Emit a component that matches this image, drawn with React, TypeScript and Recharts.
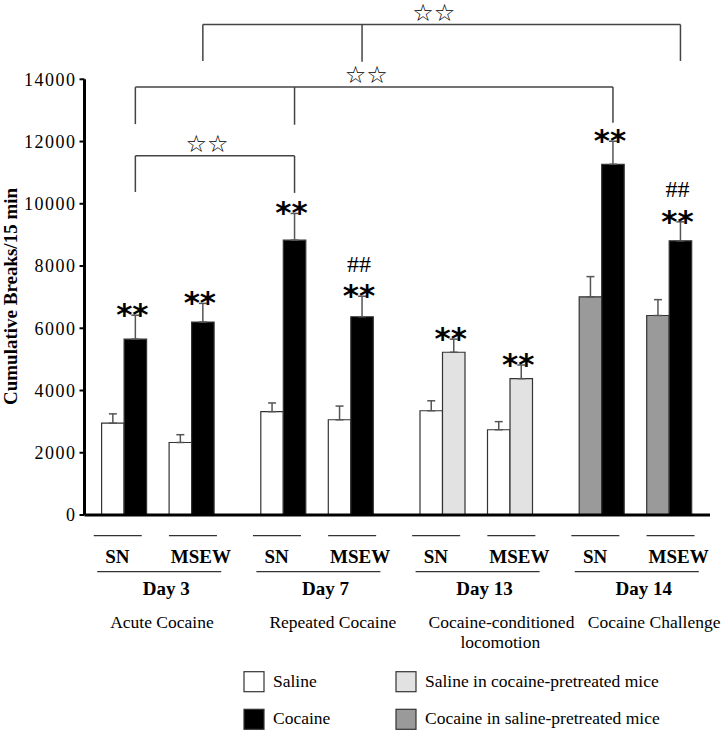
import React from 'react'
import { BarChart, Bar, XAxis, YAxis, ErrorBar, LabelList, Cell } from 'recharts'

// ---- data ----
const days = ['Day 3', 'Day 7', 'Day 13', 'Day 14']
const phases = [['Acute Cocaine'], ['Repeated Cocaine'], ['Cocaine-conditioned', 'locomotion'], ['Cocaine Challenge']]
const rearing = ['SN', 'MSEW']

// treatment of the first / second bar of every pair, per day
const firstTreatment = ['saline', 'saline', 'saline', 'cocaineSalinePre']
const secondTreatment = ['cocaine', 'cocaine', 'salineCocainePre', 'cocaine']

const snFirst = [2950, 3320, 3350, 7010]
const snFirstErr = [300, 280, 320, 650]
const snSecond = [5650, 8830, 5230, 11270]
const snSecondErr = [770, 860, 420, 740]
const msewFirst = [2330, 3060, 2740, 6410]
const msewFirstErr = [250, 440, 260, 510]
const msewSecond = [6200, 6370, 4380, 8810]
const msewSecondErr = [600, 660, 440, 610]

const snSecondMarks = ['**', '**', '**', '**']
const msewSecondMarks = ['**', '**', '**', '**']
const msewHash = ['', '##', '', '##']

const yTicks = [0, 2000, 4000, 6000, 8000, 10000, 12000, 14000]

// comparison brackets: level and leg ends in y units, legs sit on the second bar of a pair
const brackets = [
  { level: 11540, legs: [{ day: 0, group: 'SN', end: 10380 }, { day: 1, group: 'SN', end: 10350 }] },
  {
    level: 13750,
    legs: [
      { day: 0, group: 'SN', end: 12560 },
      { day: 1, group: 'SN', end: 12540 },
      { day: 3, group: 'SN', end: 12600 },
    ],
  },
  {
    level: 15760,
    legs: [
      { day: 0, group: 'MSEW', end: 14590 },
      { day: 1, group: 'MSEW', end: 14560 },
      { day: 3, group: 'MSEW', end: 14590 },
    ],
  },
]

const legendRows = [
  [['saline', 'Saline'], ['salineCocainePre', 'Saline in cocaine-pretreated mice']],
  [['cocaine', 'Cocaine'], ['cocaineSalinePre', 'Cocaine in saline-pretreated mice']],
]

// ---- styles / layout ----
const fills: Record<string, string> = {
  saline: '#ffffff',
  cocaine: '#000000',
  salineCocainePre: '#e2e2e2',
  cocaineSalinePre: '#9a9a9a',
}

const W = 728
const H = 730
const PLOT_TOP = 79.3
const PLOT_BOTTOM = 515
const PLOT_LEFT = 84.5
const PLOT_RIGHT = 710
const PAD_L = -5.9
const PAD_R = -5.4
const BAR = 22.5
const Y_MAX = 14000
const PLOT_H = PLOT_BOTTOM - PLOT_TOP
const BAND = (PLOT_RIGHT - PLOT_LEFT - PAD_L - PAD_R) / days.length
const BAR_OFFSET = Math.floor((BAND - 5 * BAR) / 2)

const SERIF = "'Liberation Serif', 'Times New Roman', serif"

const yPx = (v: number) => PLOT_TOP + (1 - v / Y_MAX) * PLOT_H
const secondBarCenter = (day: number, group: string) =>
  PLOT_LEFT + PAD_L + day * BAND + BAR_OFFSET + (group === 'SN' ? 1 : 4) * BAR + BAR / 2

const data = days.map((day, i) => ({
  day,
  snFirst: snFirst[i],
  snFirstErr: [0, snFirstErr[i]],
  snSecond: snSecond[i],
  snSecondErr: [0, snSecondErr[i]],
  spacer: null,
  msewFirst: msewFirst[i],
  msewFirstErr: [0, msewFirstErr[i]],
  msewSecond: msewSecond[i],
  msewSecondErr: [0, msewSecondErr[i]],
}))

const marks = (errs: number[], stars: string[], hashes: string[] | null, values: number[]) => (props: any) => {
  const vb = props.viewBox || props
  const idx = props.index ?? values.indexOf(props.value)
  if (idx == null || idx < 0) return null
  const cx = vb.x + vb.width / 2 - 3
  const errTop = vb.y - (errs[idx] / Y_MAX) * PLOT_H
  return (
    <g>
      <text x={cx} y={errTop + 10} textAnchor="middle" fontFamily="'DejaVu Sans', sans-serif" fontWeight="bold" fontSize={31} fill="#000">
        {stars[idx]}
      </text>
      {hashes && hashes[idx] ? (
        <text x={cx} y={errTop - 24.5} textAnchor="middle" fontFamily={SERIF} fontSize={24} fill="#000">
          {hashes[idx]}
        </text>
      ) : null}
    </g>
  )
}

function DayTick(props: any) {
  const { x, y, index } = props
  const snC = x - 1.5 * BAR
  const msC = x + 1.5 * BAR
  const lines = phases[index] || []
  const descX = x - 48
  return (
    <g>
      <line x1={snC - 30.7} x2={snC + 17.3} y1={y + 20.7} y2={y + 20.7} stroke="#333" strokeWidth={1.3} />
      <line x1={msC - 23} x2={msC + 25} y1={y + 20.7} y2={y + 20.7} stroke="#333" strokeWidth={1.3} />
      <text x={snC - 7} y={y + 48.3} textAnchor="middle" fontFamily={SERIF} fontWeight="bold" fontSize={19} fill="#000">
        {rearing[0]}
      </text>
      <text x={msC + 9} y={y + 48.3} textAnchor="middle" fontFamily={SERIF} fontWeight="bold" fontSize={19} fill="#000">
        {rearing[1]}
      </text>
      <line x1={x - 61} x2={x + 63} y1={y + 56.7} y2={y + 56.7} stroke="#333" strokeWidth={1.3} />
      <text x={x + 8} y={y + 80} textAnchor="middle" fontFamily={SERIF} fontWeight="bold" fontSize={19} fill="#000">
        {days[index]}
      </text>
      {lines.map((ln: string, k: number) => (
        <text
          key={k}
          x={k === 0 ? descX : descX + (lines[0].length * 7.55) / 2}
          y={y + 113 + k * 19.5}
          textAnchor={k === 0 ? 'start' : 'middle'}
          fontFamily={SERIF}
          fontSize={17.5}
          fill="#000"
        >
          {ln}
        </text>
      ))}
    </g>
  )
}

function Overlay() {
  return (
    <svg width={W} height={H} style={{ position: 'absolute', left: 0, top: 0, pointerEvents: 'none' }}>
      <text
        transform={`translate(10, 296.5) rotate(-90)`}
        textAnchor="middle"
        dominantBaseline="central"
        fontFamily={SERIF}
        fontWeight="bold"
        fontSize={19}
        fill="#000"
      >
        Cumulative Breaks/15 min
      </text>
      {brackets.map((b, i) => {
        const xs = b.legs.map((l) => secondBarCenter(l.day, l.group))
        const x0 = Math.min(...xs)
        const x1 = Math.max(...xs)
        const ly = yPx(b.level)
        return (
          <g key={i}>
            <line x1={x0} x2={x1} y1={ly} y2={ly} stroke="#444" strokeWidth={1.5} />
            {b.legs.map((l, k) => (
              <line key={k} x1={xs[k]} x2={xs[k]} y1={ly} y2={yPx(l.end)} stroke="#444" strokeWidth={1.5} />
            ))}
            <text x={(x0 + x1) / 2 - 8} y={ly - 4} textAnchor="middle" fontFamily="'DejaVu Sans', sans-serif" fontSize={24} fill="#000">
              ☆☆
            </text>
          </g>
        )
      })}
      {legendRows.map((row, r) =>
        row.map(([key, label], c) => {
          const lx = c === 0 ? 244 : 396
          const ly = r === 0 ? 671.7 : 709.3
          return (
            <g key={`${r}-${c}`}>
              <rect x={lx} y={ly} width={20} height={20} fill={fills[key]} stroke="#333" strokeWidth={1.2} />
              <text x={lx + 29} y={ly + 15} fontFamily={SERIF} fontSize={17.5} fill="#000">
                {label}
              </text>
            </g>
          )
        }),
      )}
    </svg>
  )
}

export default function App() {
  return (
    <div style={{ position: 'absolute', left: 0, top: 0, width: W, height: H, background: '#fff' }}>
      <BarChart
        width={W}
        height={H}
        data={data}
        margin={{ top: PLOT_TOP, right: W - PLOT_RIGHT, bottom: 0, left: 0 }}
        barGap={0}
      >
        <XAxis
          dataKey="day"
          height={H - PLOT_BOTTOM}
          padding={{ left: PAD_L, right: PAD_R }}
          axisLine={{ stroke: '#000', strokeWidth: 3 }}
          tickLine={false}
          tickSize={0}
          tickMargin={0}
          interval={0}
          tick={<DayTick />}
        />
        <YAxis
          width={PLOT_LEFT}
          domain={[0, Y_MAX]}
          ticks={yTicks}
          interval={0}
          axisLine={{ stroke: '#000', strokeWidth: 3 }}
          tickLine={{ stroke: '#000', strokeWidth: 2 }}
          tickSize={5}
          tickMargin={3}
          tick={{ fill: '#000', fontSize: 18, fontFamily: SERIF, letterSpacing: 1.5 }}
        />
        <Bar dataKey="snFirst" barSize={BAR} stroke="#333" strokeWidth={1.2} isAnimationActive={false}>
          {data.map((_, i) => (
            <Cell key={i} fill={fills[firstTreatment[i]]} />
          ))}
          <ErrorBar dataKey="snFirstErr" width={4} stroke="#555" strokeWidth={1.5} direction="y" />
        </Bar>
        <Bar dataKey="snSecond" barSize={BAR} stroke="#333" strokeWidth={1.2} isAnimationActive={false}>
          {data.map((_, i) => (
            <Cell key={i} fill={fills[secondTreatment[i]]} />
          ))}
          <ErrorBar dataKey="snSecondErr" width={4} stroke="#555" strokeWidth={1.5} direction="y" />
          <LabelList dataKey="snSecond" content={marks(snSecondErr, snSecondMarks, null, snSecond)} />
        </Bar>
        <Bar dataKey="spacer" barSize={BAR} isAnimationActive={false} />
        <Bar dataKey="msewFirst" barSize={BAR} stroke="#333" strokeWidth={1.2} isAnimationActive={false}>
          {data.map((_, i) => (
            <Cell key={i} fill={fills[firstTreatment[i]]} />
          ))}
          <ErrorBar dataKey="msewFirstErr" width={4} stroke="#555" strokeWidth={1.5} direction="y" />
        </Bar>
        <Bar dataKey="msewSecond" barSize={BAR} stroke="#333" strokeWidth={1.2} isAnimationActive={false}>
          {data.map((_, i) => (
            <Cell key={i} fill={fills[secondTreatment[i]]} />
          ))}
          <ErrorBar dataKey="msewSecondErr" width={4} stroke="#555" strokeWidth={1.5} direction="y" />
          <LabelList dataKey="msewSecond" content={marks(msewSecondErr, msewSecondMarks, msewHash, msewSecond)} />
        </Bar>
      </BarChart>
      <Overlay />
    </div>
  )
}
